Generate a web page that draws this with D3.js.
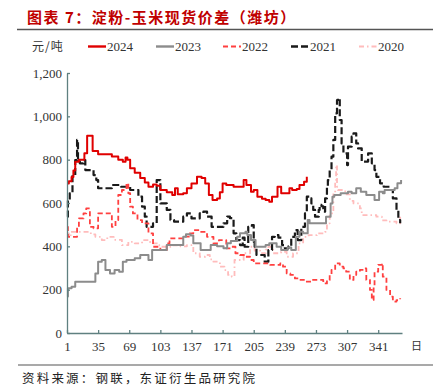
<!DOCTYPE html>
<html>
<head>
<meta charset="utf-8">
<script src="https://cdn.jsdelivr.net/npm/d3@7"></script>
<style>
  body { margin: 0; background: #fff; }
  svg { display: block; }
</style>
</head>
<body>
<svg id="chart" width="441" height="392"></svg>
<script>
// day-of-year series, [day, 元/吨]
var s2024 = [[1,690],[3,700],[6,720],[8,750],[10,790],[14,800],[17,800],[20,830],[23,910],[27,910],[29,840],[35,825],[44,825],[50,815],[57,800],[62,790],[65,810],[67,800],[70,760],[75,740],[81,715],[86,695],[90,675],[95,685],[99,680],[103,660],[110,650],[116,637],[119,668],[122,640],[128,645],[132,668],[137,690],[143,721],[148,715],[152,690],[156,637],[160,614],[165,621],[168,650],[171,690],[175,683],[183,675],[190,675],[194,706],[197,683],[202,652],[205,660],[209,629],[214,620],[218,614],[222,606],[225,629],[231,675],[235,645],[242,645],[244,668],[247,660],[252,665],[255,683],[260,698],[263,721]]

var s2023 = [[1,168],[2,206],[6,213],[10,237],[30,237],[32,275],[35,329],[39,337],[43,291],[48,275],[53,291],[58,283],[62,329],[66,337],[75,345],[81,360],[89,360],[90,337],[94,383],[103,383],[110,406],[120,406],[128,444],[131,456],[136,450],[139,414],[147,383],[155,383],[158,406],[165,400],[172,391],[176,414],[180,425],[187,444],[190,460],[196,467],[198,452],[202,429],[207,398],[213,398],[218,406],[222,414],[226,414],[230,398],[235,383],[242,395],[246,383],[251,444],[255,467],[259,460],[264,521],[266,506],[280,506],[284,537],[289,598],[291,629],[293,637],[300,645],[308,652],[312,645],[317,668],[322,652],[328,637],[333,637],[337,614],[341,614],[342,652],[346,645],[348,660],[355,660],[359,668],[362,691],[366,706]]

var s2022 = [[1,490],[2,444],[9,444],[12,490],[14,529],[19,552],[22,575],[26,490],[30,483],[35,552],[44,552],[50,490],[54,521],[57,637],[61,660],[66,691],[68,645],[70,583],[73,552],[78,521],[83,506],[90,460],[95,398],[103,383],[110,414],[113,437],[124,437],[130,445],[135,460],[139,475],[146,467],[154,444],[161,414],[167,429],[172,429],[175,391],[180,398],[185,368],[190,360],[196,352],[201,337],[205,321],[215,321],[223,314],[230,314],[234,321],[237,306],[241,275],[245,268],[250,252],[255,245],[261,237],[268,245],[279,245],[281,229],[285,245],[288,268],[290,291],[294,321],[299,306],[303,298],[306,283],[310,245],[314,268],[317,283],[321,291],[325,298],[328,245],[332,199],[334,152],[336,214],[337,283],[341,314],[345,321],[346,260],[350,199],[354,168],[357,145],[361,152],[365,160]]

var s2021 = [[1,537],[2,614],[4,645],[7,729],[10,798],[12,891],[13,798],[15,783],[19,798],[21,752],[28,752],[30,729],[33,706],[35,668],[44,668],[50,683],[60,675],[66,675],[70,660],[75,660],[79,629],[83,583],[86,537],[88,490],[95,506],[99,706],[103,598],[110,568],[114,521],[118,514],[126,514],[128,537],[132,552],[137,529],[146,552],[150,560],[154,537],[159,490],[167,490],[172,506],[176,537],[179,530],[183,460],[186,429],[190,406],[193,440],[195,398],[199,490],[203,498],[205,421],[206,398],[208,360],[215,360],[217,329],[221,383],[225,444],[228,452],[232,440],[236,406],[239,391],[243,400],[246,444],[250,475],[253,429],[257,490],[261,552],[263,629],[266,621],[268,598],[270,568],[272,537],[276,568],[277,591],[279,585],[281,560],[283,621],[285,675],[286,706],[288,752],[290,814],[292,891],[294,1014],[296,1075],[297,1083],[299,983],[301,875],[303,829],[307,775],[308,860],[312,906],[314,921],[317,875],[319,852],[323,791],[327,791],[330,829],[334,783],[337,752],[339,721],[343,691],[347,675],[351,675],[354,660],[357,621],[361,568],[363,521],[365,506]]

var s2020 = [[1,460],[3,444],[5,467],[15,467],[21,467],[27,455],[32,444],[39,429],[45,444],[52,430],[61,406],[68,421],[75,414],[83,429],[90,420],[94,414],[100,405],[103,398],[115,405],[125,400],[132,406],[139,368],[146,352],[152,360],[157,340],[161,329],[168,306],[173,290],[177,268],[181,260],[184,337],[190,337],[194,368],[201,398],[206,380],[212,368],[218,385],[221,398],[226,368],[235,375],[241,352],[248,368],[254,414],[259,444],[265,452],[274,460],[283,467],[285,506],[288,552],[292,645],[294,706],[295,775],[296,675],[297,660],[305,640],[310,610],[314,598],[321,575],[323,544],[330,544],[339,537],[345,520],[350,514],[361,506],[365,537]]

var xTicks = [1,35,69,103,137,171,205,239,273,307,341]
var yTicks = [0,200,400,600,800,1000,1200]

var series = [
  {name: "2024", data: s2024, color: "#e00000", width: 2, dash: null},
  {name: "2023", data: s2023, color: "#8c8c8c", width: 2, dash: null},
  {name: "2022", data: s2022, color: "#ff4040", width: 1.8, dash: "5,3"},
  {name: "2021", data: s2021, color: "#1a1a1a", width: 2.2, dash: "7,3"},
  {name: "2020", data: s2020, color: "#ffbcbc", width: 1.8, dash: "5,3,1.5,3"}
]

var serif = "'Liberation Serif','Times New Roman',serif"
var cjk = "'Noto Sans CJK SC',sans-serif"
var axisColor = "#5f8080"

var margin = ({top: 73, right: 39, bottom: 59, left: 67})
var width = 441, height = 392

var svg = d3.select("#chart")

var x = d3.scaleLinear()
	.domain([1, 367])
	.range([margin.left, width - margin.right])

var y = d3.scaleLinear()
	.domain([0, 1200])
	.range([height - margin.bottom, margin.top])

// title
svg.append("text")
	.attr("x", 27).attr("y", 23)
	.attr("font-family", cjk).attr("font-size", 15).attr("font-weight", "bold")
	.attr("letter-spacing", 1.5)
	.attr("fill", "#c00000")
	.text("图表 7：淀粉-玉米现货价差（潍坊）")

svg.append("line")
	.attr("x1", 17).attr("x2", 433).attr("y1", 29.5).attr("y2", 29.5)
	.attr("stroke", "#555").attr("stroke-width", 1.3)

// legend
svg.append("text")
	.attr("x", 32).attr("y", 51)
	.attr("font-family", cjk).attr("font-size", 12).attr("fill", "#333")
	.attr("letter-spacing", 1)
	.text("元/吨")

var legX = [88, 156, 223, 291, 359]
series.forEach((s, i) => {
	svg.append("line")
		.attr("x1", legX[i]).attr("x2", legX[i] + 18)
		.attr("y1", 46.5).attr("y2", 46.5)
		.attr("stroke", s.color).attr("stroke-width", s.width + 0.4)
		.attr("stroke-dasharray", s.dash)
	svg.append("text")
		.attr("x", legX[i] + 19).attr("y", 51)
		.attr("font-family", serif).attr("font-size", 13).attr("fill", "#333")
		.text(s.name)
})

// axes
var xAxis = g => g
	.attr("transform", `translate(0,${y(0)})`)
	.call(d3.axisBottom(x).tickValues(xTicks).tickSize(-3).tickPadding(9).tickSizeOuter(0))
	.call(g => g.selectAll("line,path").style("stroke", axisColor).attr("stroke-width", 1.3))

var yAxis = g => g
	.attr("transform", `translate(${margin.left},0)`)
	.call(d3.axisLeft(y).tickValues(yTicks).tickSize(-3).tickPadding(5).tickSizeOuter(0)
		.tickFormat(d3.format(",")))
	.call(g => g.selectAll("line,path").style("stroke", axisColor).attr("stroke-width", 1.3))

var lineFunction = d3.line()
	.curve(d3.curveStepAfter)
	.x(d => x(d[0]))
	.y(d => y(d[1]))

series.slice().reverse().forEach(s => {
	svg.append("path")
		.attr("fill", "none")
		.attr("stroke", s.color)
		.attr("stroke-width", s.width)
		.attr("stroke-dasharray", s.dash)
		.attr("stroke-linejoin", "round")
		.attr("d", lineFunction(s.data))
})

svg.append("g").call(xAxis)
	.selectAll("text").attr("font-family", serif).attr("font-size", 13).style("fill", "#333")

svg.append("g").call(yAxis)
	.selectAll("text").attr("font-family", serif).attr("font-size", 13).style("fill", "#333")

svg.append("text")
	.attr("x", 411).attr("y", 350)
	.attr("font-family", cjk).attr("font-size", 11).attr("fill", "#333")
	.text("日")

// source
svg.append("line")
	.attr("x1", 18).attr("x2", 433).attr("y1", 365).attr("y2", 365)
	.attr("stroke", "#555").attr("stroke-width", 1.2)

svg.append("text")
	.attr("x", 22).attr("y", 383)
	.attr("font-family", cjk).attr("font-size", 12.5).attr("fill", "#222")
	.attr("letter-spacing", 2.2)
	.text("资料来源：钢联，东证衍生品研究院")
</script>
</body>
</html>
